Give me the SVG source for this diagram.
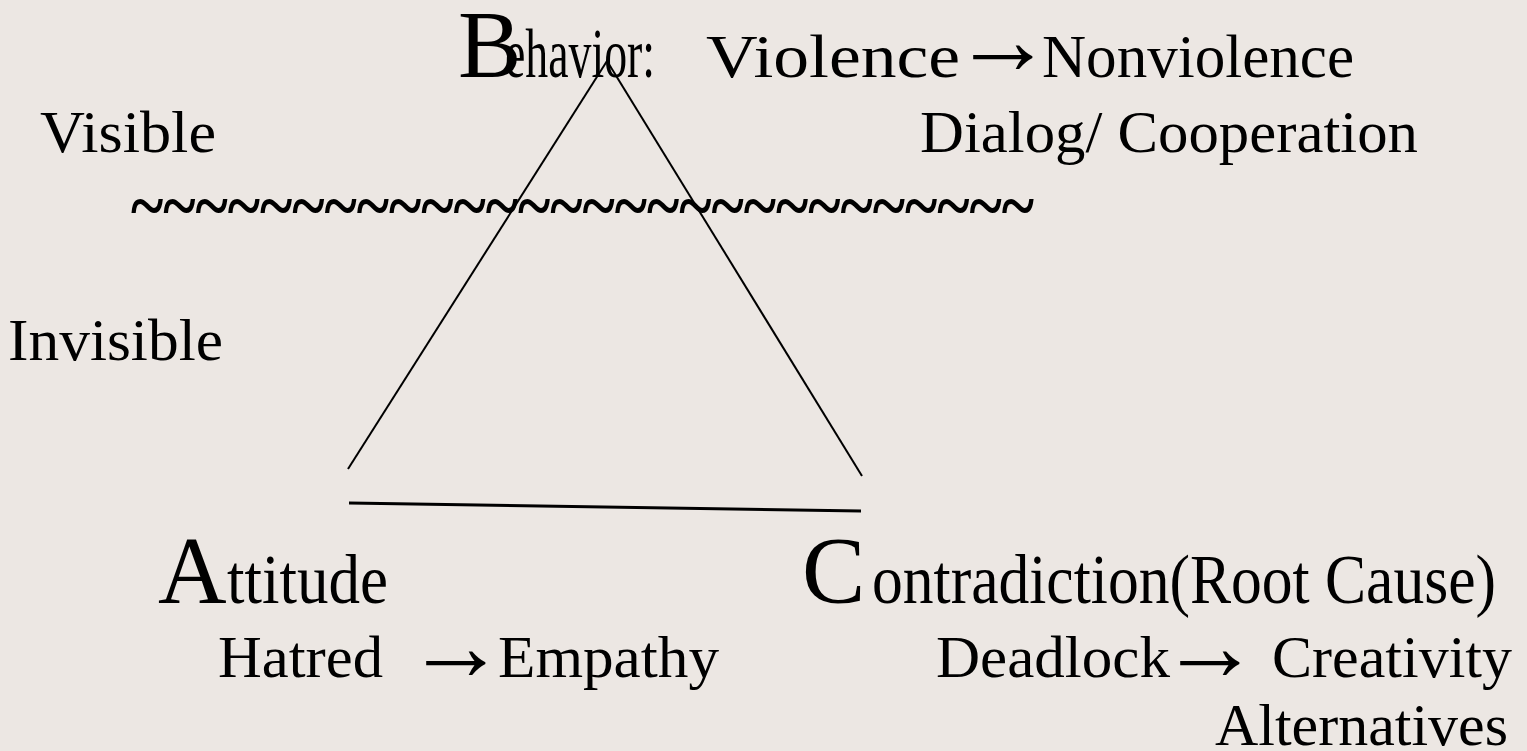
<svg xmlns="http://www.w3.org/2000/svg" width="1527" height="751" viewBox="0 0 1527 751">
<style>
text{font-family:"Liberation Serif","Times New Roman",serif;fill:#000;font-size:60px}
.big{font-size:95px}
.mid{font-size:70px}
.norm{font-size:62px}
.arr{font-size:100px}
.wave{font-size:72px;font-weight:bold}
.edge{stroke:#000;stroke-width:2;fill:none}
.base{stroke:#000;stroke-width:3;fill:none}
</style>
<rect width="1527" height="751" fill="#ECE7E3"/>
<g id="connectors">
<line class="edge" x1="607" y1="61" x2="348" y2="469"/>
<line class="edge" x1="607" y1="61" x2="862" y2="476"/>
<line class="base" x1="349" y1="503" x2="861" y2="511"/>
</g>
<g id="behavior">
<text y="77"><tspan class="big" x="458">B</tspan><tspan class="mid" x="505" textLength="150" lengthAdjust="spacingAndGlyphs">ehavior:</tspan> <tspan class="norm" x="706" textLength="254" lengthAdjust="spacingAndGlyphs">Violence</tspan> <tspan class="arr" x="953" y="74">→</tspan> <tspan class="norm" x="1042" y="77" textLength="312" lengthAdjust="spacingAndGlyphs">Nonviolence</tspan></text>
</g>
<g id="dialog">
<text x="920" y="152" textLength="498" lengthAdjust="spacingAndGlyphs">Dialog/ Cooperation</text>
</g>
<g id="visible">
<text x="40" y="152" textLength="176" lengthAdjust="spacingAndGlyphs">Visible</text>
</g>
<g id="waterline">
<text class="wave" x="131" y="230" textLength="903" lengthAdjust="spacingAndGlyphs">~~~~~~~~~~~~~~~~~~~~~~~~~~~~</text>
</g>
<g id="invisible">
<text x="8" y="360" textLength="215" lengthAdjust="spacingAndGlyphs">Invisible</text>
</g>
<g id="attitude">
<text y="603"><tspan class="big" x="158">A</tspan><tspan class="mid" x="227" textLength="161" lengthAdjust="spacingAndGlyphs">ttitude</tspan></text>
<text y="677"><tspan x="218" textLength="165" lengthAdjust="spacingAndGlyphs">Hatred</tspan>  <tspan class="arr" x="406" y="680">→</tspan> <tspan x="498" y="677" textLength="221" lengthAdjust="spacingAndGlyphs">Empathy</tspan></text>
</g>
<g id="contradiction">
<text y="603"><tspan class="big" x="802">C</tspan><tspan class="mid" x="872" textLength="624" lengthAdjust="spacingAndGlyphs">ontradiction(Root Cause)</tspan></text>
<text y="677"><tspan x="936" textLength="234" lengthAdjust="spacingAndGlyphs">Deadlock</tspan><tspan class="arr" x="1160" y="680">→</tspan>  <tspan x="1272" y="677" textLength="240" lengthAdjust="spacingAndGlyphs">Creativity</tspan></text>
<text x="1215" y="745" textLength="293" lengthAdjust="spacingAndGlyphs">Alternatives</text>
</g>
</svg>
